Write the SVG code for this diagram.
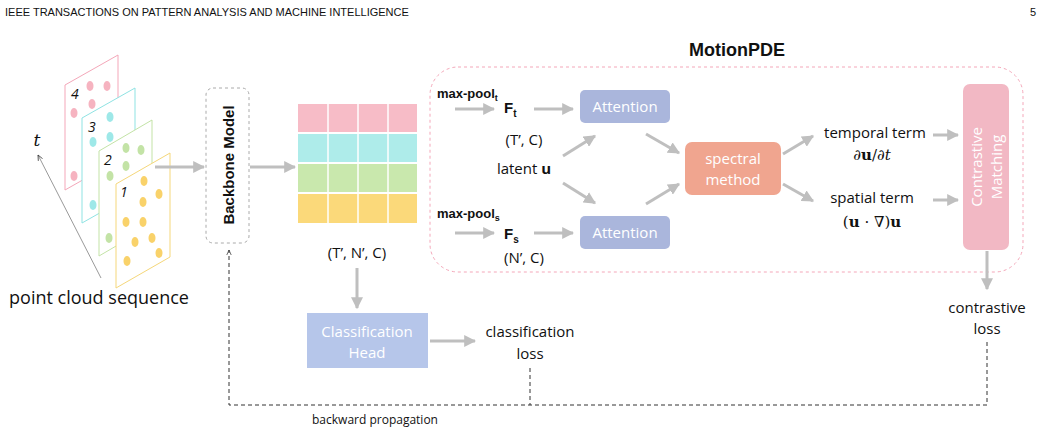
<svg xmlns="http://www.w3.org/2000/svg" width="1043" height="434" viewBox="0 0 1043 434">
<defs>
<marker id="ah" viewBox="0 0 10 10" refX="9" refY="5" markerWidth="4" markerHeight="4" orient="auto"><path d="M0,0L10,5L0,10z" fill="#bfbfbf"/></marker>
<marker id="ak" viewBox="0 0 10 10" refX="9" refY="5" markerWidth="6" markerHeight="6" orient="auto"><path d="M0,1L9,5L0,9" fill="none" stroke="#333" stroke-width="1.2"/></marker>
</defs>
<style>
text{font-family:"Open Sans","Liberation Sans",sans-serif;fill:#111}
.g{stroke:#bfbfbf;stroke-width:3;fill:none;marker-end:url(#ah)}
.d{stroke:#333;stroke-width:1;stroke-dasharray:4,3;fill:none}
.w{fill:#fff;font-size:15px;text-anchor:middle}
.c{text-anchor:middle;font-size:15px}
.b{font-weight:bold;font-family:"Liberation Sans",sans-serif}
.m{font-family:"DejaVu Serif","Liberation Serif",serif;font-size:15px;text-anchor:middle}
</style>
<rect width="1043" height="434" fill="#fff"/>
<text x="5" y="16" font-size="11" style="font-family:'Liberation Sans',sans-serif">IEEE TRANSACTIONS ON PATTERN ANALYSIS AND MACHINE INTELLIGENCE</text>
<text x="1030" y="16" font-size="11" style="font-family:'Liberation Sans',sans-serif">5</text>

<g id="frames">
<path d="M65,85L118,55V160L65,190Z" fill="#fff" stroke="#f4a7b9"/>
<g fill="#f6b3c0"><ellipse cx="90" cy="86" rx="3.5" ry="5"/><ellipse cx="107" cy="86" rx="3.5" ry="5"/><ellipse cx="92" cy="104" rx="3.5" ry="5"/><ellipse cx="74" cy="113" rx="3.5" ry="5"/><ellipse cx="74" cy="176" rx="3.5" ry="5"/></g>
<text x="71" y="99" font-size="14" font-style="italic">4</text>
<path d="M82,118L135,88V193L82,223Z" fill="#fff" stroke="#8fe3e3"/>
<g fill="#9ee8e8"><ellipse cx="110" cy="117" rx="3.5" ry="5"/><ellipse cx="110" cy="137" rx="3.5" ry="5"/><ellipse cx="93" cy="142" rx="3.5" ry="5"/><ellipse cx="93" cy="205" rx="3.5" ry="5"/></g>
<text x="88" y="132" font-size="14" font-style="italic">3</text>
<path d="M99,151L152,120V225L99,256Z" fill="#fff" stroke="#c3e3a6"/>
<g fill="#c3e3a6"><ellipse cx="126" cy="148" rx="3.5" ry="5"/><ellipse cx="141" cy="150" rx="3.5" ry="5"/><ellipse cx="126" cy="166" rx="3.5" ry="5"/><ellipse cx="110" cy="176" rx="3.5" ry="5"/><ellipse cx="109" cy="238" rx="3.5" ry="5"/></g>
<text x="104" y="165" font-size="14" font-style="italic">2</text>
<path d="M116,184L170,153V257L116,288Z" fill="#fff" stroke="#f5d77a"/>
<g fill="#f9d26a"><ellipse cx="144" cy="181" rx="3.5" ry="5"/><ellipse cx="159" cy="194" rx="3.5" ry="5"/><ellipse cx="143" cy="202" rx="3.5" ry="5"/><ellipse cx="126" cy="222" rx="3.5" ry="5"/><ellipse cx="143" cy="222" rx="3.5" ry="5"/><ellipse cx="152" cy="238" rx="3.5" ry="5"/><ellipse cx="135" cy="242" rx="3.5" ry="5"/><ellipse cx="159" cy="253" rx="3.5" ry="5"/><ellipse cx="127" cy="261" rx="3.5" ry="5"/></g>
<text x="120" y="197" font-size="14" font-style="italic">1</text>
<line x1="101" y1="278" x2="38" y2="155" stroke="#999" stroke-width="1" marker-end="url(#ak)"/>
<text x="37" y="146" font-size="17" font-style="italic" style="font-family:'DejaVu Serif',serif" text-anchor="middle">t</text>
<text x="99" y="304" font-size="18" text-anchor="middle">point cloud sequence</text>
</g>

<g id="backbone">
<rect x="206" y="88" width="43" height="155" rx="7" fill="#fff" stroke="#aaa" stroke-dasharray="3,3"/>
<text transform="translate(234,165) rotate(-90)" text-anchor="middle" font-size="15" class="b">Backbone Model</text>
</g>

<g id="features">
<rect x="298" y="104" width="119" height="28" fill="#f7bcc7"/>
<rect x="298" y="134" width="119" height="28" fill="#aeecea"/>
<rect x="298" y="164" width="119" height="28" fill="#c9e8ad"/>
<rect x="298" y="194" width="119" height="29" fill="#fbd97a"/>
<g stroke="#fff" stroke-width="1.5"><line x1="328" y1="104" x2="328" y2="223"/><line x1="358" y1="104" x2="358" y2="223"/><line x1="388" y1="104" x2="388" y2="223"/></g>
<text x="357" y="258" class="c">(T’, N’, C)</text>
</g>

<g id="cls">
<rect x="307" y="313" width="121" height="55" fill="#b6c6ea"/>
<text x="367" y="337" class="w">Classification</text>
<text x="367" y="358" class="w">Head</text>
<text x="530" y="337" class="c">classification</text>
<text x="530" y="359" class="c">loss</text>
</g>

<g id="motionpde">
<rect x="430" y="67" width="593" height="205" rx="28" fill="none" stroke="#f4a7b9" stroke-dasharray="3,3"/>
<text x="737" y="56" font-size="18" text-anchor="middle" class="b">MotionPDE</text>
<text x="437" y="98" font-size="13" class="b">max-pool<tspan font-size="9" dy="3">t</tspan></text>
<text x="437" y="218" font-size="13" class="b">max-pool<tspan font-size="9" dy="3">s</tspan></text>
<text x="504" y="113" font-size="15" class="b">F<tspan font-size="10" dy="4">t</tspan></text>
<text x="504" y="239" font-size="15" class="b">F<tspan font-size="10" dy="4">s</tspan></text>
<text x="524" y="145" class="c">(T’, C)</text>
<text x="524" y="174" class="c">latent <tspan font-weight="bold">u</tspan></text>
<text x="524" y="263" class="c">(N’, C)</text>
<rect x="580" y="90" width="90" height="33" rx="5" fill="#aab6dc"/>
<text x="625" y="112" class="w">Attention</text>
<rect x="580" y="216" width="90" height="33" rx="5" fill="#aab6dc"/>
<text x="625" y="238" class="w">Attention</text>
<rect x="685" y="142" width="96" height="53" rx="7" fill="#f0a58f"/>
<text x="733" y="164" class="w">spectral</text>
<text x="733" y="185" class="w">method</text>
<text x="875" y="138" class="c">temporal term</text>
<text x="872" y="160" class="m">∂<tspan font-weight="bold">u</tspan>/∂<tspan font-style="italic">t</tspan></text>
<text x="872" y="203" class="c">spatial term</text>
<text x="872" y="227" class="m">(<tspan font-weight="bold">u</tspan> · ∇)<tspan font-weight="bold">u</tspan></text>
<rect x="963" y="84" width="46" height="166" rx="7" fill="#f2b8c4"/>
<text transform="translate(982,167) rotate(-90)" class="w">Contrastive</text>
<text transform="translate(1002,167) rotate(-90)" class="w">Matching</text>
</g>
<text x="987" y="313" class="c">contrastive</text>
<text x="987" y="334" class="c">loss</text>
<text x="375" y="424" font-size="12" text-anchor="middle">backward propagation</text>

<g id="connectors">
<line x1="155" y1="167" x2="204" y2="167" class="g"/>
<line x1="250" y1="167" x2="295" y2="167" class="g"/>
<line x1="357" y1="268" x2="357" y2="308" class="g"/>
<line x1="430" y1="341" x2="475" y2="341" class="g"/>
<line x1="455" y1="109" x2="494" y2="109" class="g"/>
<line x1="534" y1="109" x2="573" y2="109" class="g"/>
<line x1="455" y1="233" x2="494" y2="233" class="g"/>
<line x1="534" y1="233" x2="573" y2="233" class="g"/>
<line x1="563" y1="156" x2="595" y2="136" class="g"/>
<line x1="563" y1="183" x2="595" y2="203" class="g"/>
<line x1="646" y1="134" x2="679" y2="153" class="g"/>
<line x1="646" y1="204" x2="679" y2="184" class="g"/>
<line x1="783" y1="154" x2="813" y2="136" class="g"/>
<line x1="783" y1="184" x2="813" y2="201" class="g"/>
<line x1="933" y1="135" x2="958" y2="135" class="g"/>
<line x1="933" y1="200" x2="958" y2="200" class="g"/>
<line x1="987" y1="251" x2="987" y2="289" class="g"/>
<path d="M987,342V405H229V250" class="d" marker-end="url(#ak)"/>
<path d="M530,368V405" class="d"/>
</g>
</svg>
